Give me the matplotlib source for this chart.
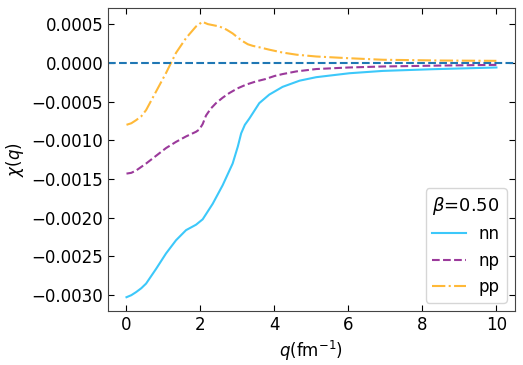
import numpy as np
import matplotlib
matplotlib.use("Agg")
import matplotlib.pyplot as plt

# values
q_nn = [0, 0.13, 0.26, 0.4, 0.53, 0.8, 1.07, 1.34, 1.61, 1.88, 2.06, 2.33, 2.6,
        2.87, 3.01, 3.1, 3.2, 3.32, 3.59, 3.86, 4.22, 4.68, 5.13, 6.03, 6.93,
        8.28, 10]
chi_nn = [-0.003026, -0.003, -0.00296, -0.00291, -0.00285, -0.00266, -0.00246,
          -0.00229, -0.00216, -0.00209, -0.00202, -0.00182, -0.00158,
          -0.0013, -0.00108, -0.00091, -0.0008, -0.00072, -0.00052, -0.00041,
          -0.00031, -0.00023, -0.000185, -0.000134, -0.000104,
          -0.000082, -0.00006]

q_np = [0, 0.13, 0.26, 0.53, 0.8, 1.07, 1.34, 1.61, 1.88, 1.97, 2.06, 2.15, 2.28,
        2.42, 2.6, 2.78, 3.0, 3.24, 3.5, 3.75, 4.0, 4.22, 4.6, 5.13, 6.0, 6.93,
        8.5, 10]
chi_np = [-0.00143, -0.00142, -0.00139, -0.0013, -0.0012, -0.0011, -0.00102,
          -0.00095, -0.00089, -0.00086, -0.00079, -0.00068, -0.00059,
          -0.00052, -0.00045, -0.00039, -0.00033, -0.00028, -0.00024, -0.00021,
          -0.00017, -0.000145, -0.00011, -0.00008, -0.00006, -0.000047,
          -0.000035, -0.000026]

q_pp = [0, 0.13, 0.26, 0.4, 0.53, 0.8, 1.07, 1.34, 1.61, 1.88, 1.97, 2.04, 2.1,
        2.2, 2.51, 2.7, 2.87, 3.0, 3.14, 3.28, 3.41, 3.6, 3.86, 4.22, 4.6,
        5.13, 6.0, 6.93, 8.5, 10]
chi_pp = [-0.0008, -0.00078, -0.00074, -0.00069, -0.00061, -0.00037, -0.00013,
          0.00013, 0.00032, 0.00047, 0.0005, 0.00053, 0.00052,
          0.0005, 0.00047, 0.00043, 0.00038, 0.00033, 0.00028, 0.00024,
          0.00022, 0.0002, 0.00017, 0.000133, 0.000105,
          0.000082, 0.00006, 0.00004, 0.00003, 0.000026]

plt.rcParams['font.size'] = 12
fig = plt.figure(figsize=(5.23, 3.65), dpi=100)
ax = fig.add_axes([0.2065, 0.148, 0.778, 0.83])

ax.plot(q_nn, chi_nn, '-', color='#3cc8fa', lw=1.5, label='nn')
ax.plot(q_np, chi_np, '--', color='#9b3a9b', lw=1.5, label='np')
ax.plot(q_pp, chi_pp, '-.', color='#ffb938', lw=1.5, label='pp')
ax.axhline(0, color='#1f77b4', ls='--', lw=1.5)

ax.set_xlabel(r'$q$(fm$^{-1}$)')
ax.set_ylabel(r'$\chi(q)$')
ax.set_xticks([0, 2, 4, 6, 8, 10])
ax.tick_params(direction='in', top=True, right=True, length=4)
for s in ax.spines.values():
    s.set_color('#444444')
ax.legend(title=r'$\beta$=0.50', loc='lower right', title_fontsize=13)

fig.savefig('out.png', dpi=100)
